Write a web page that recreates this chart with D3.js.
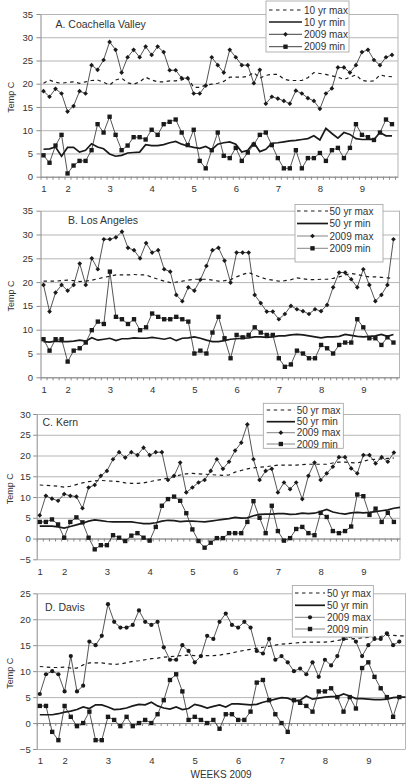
<!DOCTYPE html>
<html><head><meta charset="utf-8">
<script src="https://cdn.jsdelivr.net/npm/d3@7"></script>
<style>
body{margin:0;background:#fff}
svg{display:block}
text{font-family:"Liberation Sans",Arial,Helvetica,sans-serif;fill:#333}
</style>
</head><body>
<svg id="chart" width="408" height="781"></svg>
<script>
// ---------- data ----------
const weekLabels = ["1","2","3","4","5","6","7","8","9"];
const weekIndex  = [0,4,11,18,25,32,39,46,53];
const panelTitles = ["A. Coachella Valley","B.  Los Angeles","C. Kern","D. Davis"];
const legendA   = ["10 yr max","10 yr min","2009 max","2009 min"];
const legendBCD = ["50 yr max","50 yr min","2009 max","2009 min"];
const xAxisTitle = "WEEKS 2009";
const yAxisTitle = "Temp C";

const aMax10 = [20.1,20.8,20.3,20.1,20.3,20.4,20.1,20.4,20.7,20.8,20.3,19.7,20.8,21.2,20.2,19.9,20.4,21.4,20.8,20.4,20.4,20.6,20.6,20.8,21.3,19.2,19.2,19.7,19.9,20.1,20.5,21.4,21.4,21.4,21.6,22.4,21.2,21.8,22.0,22.0,21.0,20.7,20.7,20.7,21.3,22.4,22.2,22.0,21.7,21.4,20.9,21.4,21.9,20.7,20.5,20.6,21.9,21.6,21.5];
const aMin10 = [5.9,6.0,6.4,4.4,6.3,6.3,5.3,5.7,7.1,6.4,6.0,4.9,4.4,4.6,5.1,5.2,5.3,6.9,6.7,6.7,6.9,7.3,7.6,7.0,6.6,6.3,6.1,6.5,5.8,7.0,7.3,7.5,7.0,5.3,5.7,7.3,5.4,5.9,7.2,7.3,7.5,7.7,7.8,8.0,8.2,8.8,7.9,10.4,9.3,8.3,9.5,9.1,8.2,8.0,8.0,8.0,9.5,8.8,8.8];
const aMax09 = [18.4,17.2,18.9,17.9,14.0,15.2,18.4,17.9,24.0,23.0,25.1,29.0,27.3,22.4,25.7,27.3,25.7,28.0,26.2,28.0,26.8,22.9,22.9,21.2,21.2,17.9,17.9,19.6,25.7,24.0,22.4,27.3,25.7,24.0,24.0,20.1,23.0,15.7,17.2,16.8,16.3,15.7,18.5,17.9,16.9,16.3,14.6,17.9,19.0,23.5,23.5,22.4,24.0,26.8,27.3,25.1,24.0,25.7,26.2];
const aMin09 = [4.6,3.0,6.7,9.0,0.7,2.4,3.4,3.4,5.7,11.3,9.5,12.9,9.0,5.7,6.7,8.5,8.5,8.0,10.1,9.0,11.3,11.8,12.3,9.5,6.8,10.1,3.4,1.8,5.7,9.5,4.5,4.0,6.2,3.4,5.2,6.9,9.0,9.5,6.8,4.0,1.8,1.8,5.7,1.8,4.0,4.0,5.1,3.4,5.7,6.2,4.0,6.2,11.3,9.0,8.5,7.9,9.5,12.3,11.3];

const bMax50 = [20.2,20.2,20.2,20.3,20.4,20.3,20.1,20.2,20.4,20.7,21.0,21.2,21.5,21.5,21.5,21.6,21.5,21.5,21.0,20.6,20.2,19.9,20.0,20.2,20.4,20.6,20.6,20.6,20.4,20.2,20.3,20.5,21.1,21.6,22.0,21.5,21.0,20.6,20.4,20.2,20.3,20.5,20.9,20.7,20.5,20.5,20.6,20.6,20.8,21.1,21.5,21.8,21.6,21.3,21.1,21.1,21.0,20.9,20.8];
const bMin50 = [7.5,7.4,7.6,7.5,7.5,7.6,7.8,7.6,8.3,7.8,8.0,8.2,7.7,8.1,8.1,8.3,8.2,8.2,8.4,8.2,8.0,8.3,7.7,8.2,8.3,8.5,8.2,7.8,7.5,7.5,7.7,8.0,8.1,8.2,8.3,8.5,8.5,8.4,8.5,8.7,8.7,8.9,9.0,8.9,8.7,8.5,8.3,8.5,8.5,8.6,9.0,8.8,8.6,8.5,8.6,8.7,9.0,8.6,9.0];
const bMax09 = [19.4,13.8,17.8,19.4,18.2,19.4,23.9,19.4,25.0,22.7,29.0,29.0,29.4,30.6,27.2,26.7,25.0,28.2,26.2,26.7,22.7,22.2,17.3,16.0,18.9,18.2,20.5,23.4,26.7,27.2,24.5,19.9,26.2,26.2,26.2,17.3,15.6,13.8,13.8,12.2,13.3,15.0,14.3,13.9,13.3,14.3,13.9,15.2,18.9,22.0,22.0,20.6,18.9,22.7,19.4,16.0,17.3,19.4,29.0];
const bMin09 = [8.0,5.6,8.0,8.0,3.3,5.6,6.1,7.3,9.9,11.7,11.2,22.2,12.7,12.2,11.2,12.2,9.9,10.5,13.4,12.7,12.2,12.2,12.7,12.2,11.7,5.0,5.6,5.0,9.4,12.7,8.2,4.0,8.9,8.4,8.9,10.5,9.4,8.9,8.9,4.0,2.2,2.7,5.6,5.0,4.0,4.0,6.8,6.1,5.0,6.8,7.3,7.3,12.2,10.5,8.2,8.2,6.8,8.4,7.3];

const cMax50 = [12.9,12.8,12.7,12.6,12.4,12.6,13.0,13.4,13.7,13.9,14.0,13.9,13.8,13.7,13.4,13.3,13.3,13.4,13.7,14.0,14.2,14.6,14.9,15.3,15.6,15.7,15.6,15.5,15.4,15.3,15.2,15.3,16.0,16.4,16.8,17.0,17.2,17.3,17.5,17.7,17.7,17.7,17.7,17.8,17.9,17.9,17.9,17.9,18.2,18.4,18.4,18.3,18.2,18.6,19.0,19.1,19.2,19.3,19.4];
const cMin50 = [3.0,3.0,3.0,2.8,2.5,2.9,3.3,3.7,4.2,4.5,4.3,4.1,4.0,4.0,4.0,4.0,3.8,3.6,3.6,3.8,4.2,4.4,4.3,4.1,4.2,4.2,4.1,4.0,4.2,4.4,4.6,4.8,5.1,4.9,5.0,5.5,5.8,5.9,5.9,6.0,6.0,5.8,5.9,6.1,6.0,6.1,6.5,7.0,6.4,6.1,5.9,6.2,6.3,6.2,6.3,6.5,6.7,6.9,7.3,7.5];
const cMax09 = [5.6,10.3,9.6,9.1,10.7,10.3,10.1,7.3,12.3,12.9,15.1,16.3,19.1,20.8,19.5,20.8,20.1,21.9,20.1,20.8,20.8,14.1,15.1,18.3,11.1,12.3,13.5,14.1,16.3,19.1,16.8,18.5,21.2,23.1,27.5,19.1,14.1,16.3,16.8,11.1,13.5,11.9,13.5,9.5,15.1,18.3,14.1,15.7,17.3,19.6,19.6,16.9,15.7,20.1,20.1,18.1,19.6,18.5,20.7];
const cMin09 = [4.0,4.0,4.6,3.4,0.2,4.0,5.1,3.9,0.2,-2.6,-1.6,-1.6,0.8,0.2,-0.6,0.7,1.3,0.2,-0.5,2.8,7.9,9.5,10.1,9.1,6.1,2.2,-0.6,-2.2,-1.0,0.1,0.1,1.3,1.3,1.3,4.0,9.0,5.0,1.3,7.9,1.8,-0.5,0.1,2.3,2.8,1.3,0.8,6.2,5.2,1.8,1.3,1.8,2.9,10.6,10.2,5.7,7.2,4.0,6.2,4.0];

const dMax50 = [10.9,10.8,10.7,10.7,10.8,10.6,10.6,11.2,11.6,11.6,11.6,11.4,11.3,11.4,11.6,11.9,12.0,12.2,12.4,12.5,12.7,12.8,12.9,13.0,13.1,13.0,12.9,13.0,13.0,13.1,13.3,13.5,13.8,14.0,14.2,14.4,14.6,14.8,15.0,15.2,15.3,15.4,15.5,15.6,15.6,15.6,15.6,15.7,15.9,16.1,16.2,16.3,16.4,16.5,16.6,16.7,16.9,16.9,16.8,16.8];
const dMin50 = [1.6,1.6,1.6,1.8,2.1,2.3,2.6,3.1,2.8,3.5,3.5,3.1,2.6,2.7,2.9,3.3,3.6,3.5,4.0,3.3,2.9,2.7,3.1,2.6,2.8,3.6,3.3,2.9,3.2,3.5,3.1,3.7,3.7,3.6,3.5,3.6,4.0,4.3,4.6,4.9,4.8,4.3,4.4,5.2,4.6,4.8,5.0,5.1,5.1,5.6,5.2,4.7,4.7,4.6,4.5,4.5,4.6,4.9,5.0,5.0];
const dMax09 = [5.6,9.4,10.0,9.4,6.1,12.9,6.1,7.2,15.7,15.0,16.8,22.9,19.5,18.4,18.4,18.9,21.7,19.5,18.9,19.5,14.6,12.2,12.2,15.0,13.9,11.7,12.9,16.8,16.2,19.5,21.1,18.9,18.4,19.5,18.4,13.9,13.4,16.2,12.2,12.9,11.7,10.0,10.5,9.4,11.7,8.9,12.2,11.1,12.9,16.2,16.8,15.7,12.9,15.0,16.2,16.2,17.3,15.0,15.7];
const dMin09 = [3.3,3.3,-1.7,-3.3,3.3,1.2,-0.6,0.0,2.2,-3.3,-3.3,1.2,0.6,-0.6,1.2,-0.6,0.0,0.6,0.0,1.7,4.4,8.3,9.4,6.1,0.6,1.2,0.6,0.0,0.6,-1.1,1.7,1.7,0.6,0.6,2.2,7.8,8.3,4.4,1.7,0.0,-1.7,4.4,3.9,3.3,2.2,6.1,6.1,6.7,5.0,2.2,5.0,2.8,10.6,11.7,8.9,6.7,5.0,1.2,5.0];

const yDomains = [[0,35],[0,35],[-5,30],[-5,25]];

// ---------- panels ----------
const panels = [
  {title:panelTitles[0], legend:legendA,   series:[aMax10,aMin10,aMax09,aMin09], yDomain:yDomains[0], maxMarker:"diamond"},
  {title:panelTitles[1], legend:legendBCD, series:[bMax50,bMin50,bMax09,bMin09], yDomain:yDomains[1], maxMarker:"diamond"},
  {title:panelTitles[2], legend:legendBCD, series:[cMax50,cMin50,cMax09,cMin09], yDomain:yDomains[2], maxMarker:"diamond"},
  {title:panelTitles[3], legend:legendBCD, series:[dMax50,dMin50,dMax09,dMin09], yDomain:yDomains[3], maxMarker:"circle"}
];
const layout = [
  {left:40.5,right:398,top:14,bottom:176.7, tickSize:4, tickPad:3.5, titleX:55.5, titleY:27.5, yTitleX:11,
   box:[266,1,349,52], ey:[10,22,34.3,46.7], sx:[269,302], tx:304, legGray:false},
  {left:40.5,right:399.5,top:210.7,bottom:377.3, tickSize:4, tickPad:3.5, titleX:68, titleY:224, yTitleX:11,
   box:[295,204.5,383,262], ey:[211,223.5,236,248.3], sx:[297,328], tx:329.5, legGray:true},
  {left:36.7,right:400,top:414,bottom:559.3, tickSize:3.5, tickPad:2.5, titleX:42.5, titleY:425.5, yTitleX:10,
   box:[263.3,403.3,343.3,448.3], ey:[410,421.7,432.7,444], sx:[266.7,295], tx:296.7, legGray:true},
  {left:36.7,right:405.5,top:593.3,bottom:749, tickSize:3.5, tickPad:2.5, titleX:45, titleY:611, yTitleX:9.5,
   box:[292.3,585.5,373.3,637], ey:[593,605.3,617.3,629], sx:[295,325], tx:327, legGray:true}
];

const svg = d3.select("#chart");
const GRID = "#b5b5b5", AXIS = "#8a8a8a", INK = "#1a1a1a";

function marker(sel, type, cx, cy){
  if(type === "diamond"){
    sel.append("path").attr("d", d3.symbol(d3.symbolSquare, 11)())
      .attr("transform", `translate(${cx},${cy}) rotate(45)`).attr("fill", INK);
  } else if(type === "square"){
    sel.append("path").attr("d", d3.symbol(d3.symbolSquare, 19)())
      .attr("transform", `translate(${cx},${cy})`).attr("fill", INK);
  } else {
    sel.append("circle").attr("cx",cx).attr("cy",cy).attr("r",2.1).attr("fill", INK);
  }
}

panels.forEach((p,k)=>{
  const L = layout[k];
  const g = svg.append("g");
  const x = d3.scaleLinear().domain([-0.5,59]).range([L.left,L.right]);
  const y = d3.scaleLinear().domain(p.yDomain).range([L.bottom,L.top]);
  const yt = d3.range(p.yDomain[0], p.yDomain[1]+0.01, 5);

  // gridlines
  g.append("g").attr("transform",`translate(${L.left},0)`)
    .call(d3.axisLeft(y).tickValues(yt).tickSize(-(L.right-L.left)).tickFormat(""))
    .call(s=>{ s.select(".domain").remove(); s.selectAll("line").attr("stroke",GRID).attr("stroke-width",1); });
  // right border
  g.append("line").attr("x1",L.right).attr("x2",L.right).attr("y1",L.top).attr("y2",L.bottom)
    .attr("stroke",GRID);

  // y axis
  g.append("g").attr("transform",`translate(${L.left},0)`)
    .call(d3.axisLeft(y).tickValues(yt).tickSize(L.tickSize).tickPadding(L.tickPad).tickSizeOuter(0))
    .call(s=>{
      s.select(".domain").attr("stroke",AXIS);
      s.selectAll(".tick line").attr("stroke",AXIS);
      s.selectAll("text").attr("font-size","9.5px").attr("fill","#333")
        .attr("font-family",'"Liberation Sans",Arial,sans-serif');
    });

  // category axis at 0
  const bounds = d3.range(-0.5, 59.01, 1);
  g.append("g").attr("transform",`translate(0,${y(0)})`)
    .call(d3.axisBottom(x).tickValues(bounds).tickSize(3).tickSizeOuter(0).tickFormat(""))
    .call(s=>{ s.select(".domain").attr("stroke",AXIS); s.selectAll(".tick line").attr("stroke",AXIS); });

  // week labels at the bottom
  g.append("g").attr("transform",`translate(0,${L.bottom})`)
    .call(d3.axisBottom(x).tickValues(weekIndex).tickSize(0).tickPadding(8.5)
      .tickFormat((d,i)=>weekLabels[i]))
    .call(s=>{
      s.select(".domain").remove();
      s.selectAll("text").attr("font-size","9.5px").attr("fill","#333")
        .attr("font-family",'"Liberation Sans",Arial,sans-serif');
    });

  // y title
  g.append("text").attr("transform",`translate(${L.yTitleX},${(L.top+L.bottom)/2+2}) rotate(-90)`)
    .attr("text-anchor","middle").attr("dy","0.35em").attr("font-size","9px").text(yAxisTitle);

  // panel title
  g.append("text").attr("x",L.titleX).attr("y",L.titleY).attr("font-size","10.5px").attr("fill","#222").text(p.title);

  const line = d3.line().x((d,i)=>x(i)).y(d=>y(d));
  const [mx, mn, m09, n09] = p.series;
  g.append("path").datum(mx).attr("d",line).attr("fill","none").attr("stroke",INK)
    .attr("stroke-width",1.2).attr("stroke-dasharray","3.5,3.5");
  g.append("path").datum(mn).attr("d",line).attr("fill","none").attr("stroke",INK)
    .attr("stroke-width",1.7);
  g.append("path").datum(m09).attr("d",line).attr("fill","none").attr("stroke","#2a2a2a").attr("stroke-width",0.8);
  g.append("path").datum(n09).attr("d",line).attr("fill","none").attr("stroke","#2a2a2a").attr("stroke-width",0.8);
  const mg = g.append("g");
  m09.forEach((v,i)=>marker(mg, p.maxMarker, x(i), y(v)));
  n09.forEach((v,i)=>marker(mg, "square", x(i), y(v)));

  // legend
  const lg = g.append("g");
  lg.append("rect").attr("x",L.box[0]).attr("y",L.box[1]).attr("width",L.box[2]-L.box[0]).attr("height",L.box[3]-L.box[1])
    .attr("fill","#fff").attr("stroke","#a0a0a0").attr("stroke-width",0.8);
  p.legend.forEach((lab,j)=>{
    const yy = L.ey[j];
    const ln = lg.append("line").attr("x1",L.sx[0]).attr("x2",L.sx[1]).attr("y1",yy).attr("y2",yy);
    if(j===0) ln.attr("stroke",INK).attr("stroke-width",1.2).attr("stroke-dasharray","3.5,3.5");
    else if(j===1) ln.attr("stroke",INK).attr("stroke-width",1.7);
    else ln.attr("stroke", L.legGray ? "#777" : "#2a2a2a").attr("stroke-width",0.9);
    const mid = (L.sx[0]+L.sx[1])/2;
    if(j===2) marker(lg, p.maxMarker, mid, yy);
    if(j===3) marker(lg, "square", mid, yy);
    lg.append("text").attr("x",L.tx).attr("y",yy).attr("dy","0.35em").attr("font-size","10px").text(lab);
  });
});

// x axis title (bottom panel)
svg.append("text").attr("x",(layout[3].left+layout[3].right)/2).attr("y",777.5)
  .attr("text-anchor","middle").attr("font-size","10px").text(xAxisTitle);
</script>
</body></html>
